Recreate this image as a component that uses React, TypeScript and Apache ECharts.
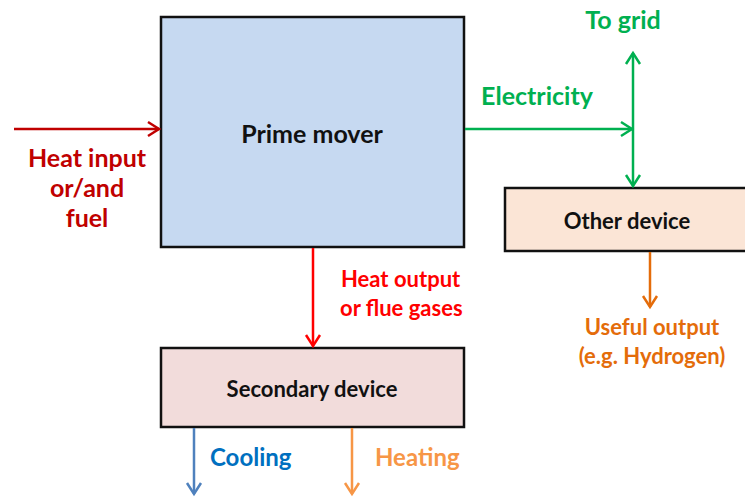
import React, { useEffect, useRef } from "react";
import * as echarts from "echarts";

const boxLabels = ["Prime mover", "Other device", "Secondary device"];
const flowLabels = ["Heat input", "or/and", "fuel"];
const electricityLabels = ["Electricity", "To grid"];
const heatOutLabels = ["Heat output", "or flue gases"];
const usefulLabels = ["Useful output", "(e.g. Hydrogen)"];
const secondaryOutLabels = ["Cooling", "Heating"];

const FONT = "Lato, 'Open Sans', sans-serif";

function arrowHead(x: number, y: number, dir: "r" | "u" | "d", color: string, lw: number) {
  const L = 11;
  const W = 7;
  let pts: number[][] = [];
  if (dir === "r") pts = [[x - L, y - W], [x, y], [x - L, y + W]];
  if (dir === "u") pts = [[x - W, y + L], [x, y], [x + W, y + L]];
  if (dir === "d") pts = [[x - W, y - L], [x, y], [x + W, y - L]];
  return { type: "polyline", shape: { points: pts }, style: { stroke: color, lineWidth: lw, fill: null, lineJoin: "miter" } };
}

function line(x1: number, y1: number, x2: number, y2: number, color: string, lw: number) {
  return { type: "line", shape: { x1, y1, x2, y2 }, style: { stroke: color, lineWidth: lw } };
}

function text(t: string, x: number, y: number, color: string, size: number, align = "center") {
  return {
    type: "text",
    x,
    y,
    style: {
      text: t,
      fill: color,
      font: `bold ${size}px ${FONT}`,
      align,
      verticalAlign: "middle",
      textAlign: align,
      textVerticalAlign: "middle",
    },
  };
}

function box(x: number, y: number, w: number, h: number, fill: string) {
  return { type: "rect", shape: { x, y, width: w, height: h }, style: { fill, stroke: "#111", lineWidth: 2.5 } };
}

export default function App() {
  const ref = useRef<HTMLDivElement>(null);
  useEffect(() => {
    document.body.style.margin = "0";
    const chart = echarts.init(ref.current!, undefined, { renderer: "svg" });
    const RED_DARK = "#c00000";
    const RED = "#ff0000";
    const GREEN = "#00b050";
    const ORANGE = "#e46c0a";
    const BLUE_ARROW = "#4f81bd";
    const BLUE_TEXT = "#0070c0";
    const LIGHT_ORANGE = "#f79646";
    const lw = 2.5;
    const elements: any[] = [
      box(161, 17, 303, 230, "#c6d9f1"),
      box(505, 188, 245, 63, "#fbe5d6"),
      box(161, 348, 303, 79, "#f2dcdb"),
      text(boxLabels[0], 312, 133, "#111", 25),
      text(boxLabels[1], 627, 220, "#111", 22),
      text(boxLabels[2], 312, 388, "#111", 22),
      // heat input
      line(14, 129, 159, 129, RED_DARK, lw),
      arrowHead(159, 129, "r", RED_DARK, lw),
      text(flowLabels[0], 87, 157, RED_DARK, 25),
      text(flowLabels[1], 87, 187, RED_DARK, 25),
      text(flowLabels[2], 87, 217, RED_DARK, 25),
      // electricity
      line(465, 129, 632, 129, GREEN, lw),
      arrowHead(632, 129, "r", GREEN, lw),
      line(633, 53, 633, 186, GREEN, lw),
      arrowHead(633, 53, "u", GREEN, lw),
      arrowHead(633, 186, "d", GREEN, lw),
      text(electricityLabels[0], 537, 95, GREEN, 25),
      text(electricityLabels[1], 623, 19, GREEN, 25),
      // useful output
      line(650, 252, 650, 307, ORANGE, lw),
      arrowHead(650, 307, "d", ORANGE, lw),
      text(usefulLabels[0], 652, 326, ORANGE, 22),
      text(usefulLabels[1], 652, 355, ORANGE, 22),
      // heat output
      line(313, 248, 313, 346, RED, lw),
      arrowHead(313, 346, "d", RED, lw),
      text(heatOutLabels[0], 341, 278, RED, 22, "left"),
      text(heatOutLabels[1], 340, 307, RED, 22, "left"),
      // secondary outputs
      line(194, 428, 194, 494, BLUE_ARROW, lw),
      arrowHead(194, 494, "d", BLUE_ARROW, lw),
      line(352, 428, 352, 494, LIGHT_ORANGE, lw),
      arrowHead(352, 494, "d", LIGHT_ORANGE, lw),
      text(secondaryOutLabels[0], 210, 456, BLUE_TEXT, 24, "left"),
      text(secondaryOutLabels[1], 375, 456, LIGHT_ORANGE, 24, "left"),
    ];
    chart.setOption({
      animation: false,
      backgroundColor: "#ffffff",
      graphic: { elements },
    });
    return () => chart.dispose();
  }, []);
  return <div ref={ref} style={{ width: 745, height: 497 }} />;
}
